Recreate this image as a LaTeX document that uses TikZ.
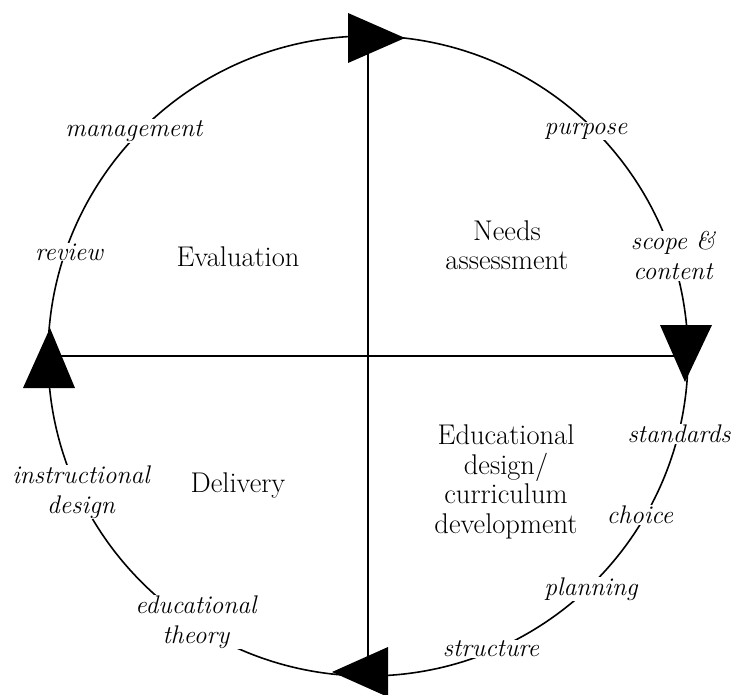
\documentclass[tikz,border=0pt]{standalone}
\usetikzlibrary{calc}
\begin{document}
\begin{tikzpicture}[x=1pt,y=-1pt,
  ring/.style={line width=1.6pt},
  axisline/.style={line width=1.6pt},
  lab/.style={fill=white,inner sep=1pt,align=center,font=\fontsize{25.5}{30}\selectfont\itshape},
  phase/.style={align=center,font=\fontsize{28.5}{29.5}\selectfont},
  head/.style={fill=black}]
\useasboundingbox (0,0) rectangle (733,695);
\coordinate (O) at (368,356);
\coordinate (T) at (368,36);
\coordinate (B) at (368,676);
\coordinate (L) at (48,356);
\coordinate (R) at (688,356);
\draw[ring] (O) circle [radius=320pt];
\draw[axisline] (T) -- (B);
\draw[axisline] (L) -- (R);
% labels on the ring
\node[lab] (management) at (134,131) {management};
\node[lab] (review) at (69,252) {review};
\node[lab] (purpose) at (586,131) {purpose};
\node[lab] (scope) at (673,256) {scope \&\\content};
\node[lab] (standards) at (679,434) {standards};
\node[lab] (choice) at (640,515) {choice};
\node[lab] (planning) at (591,589) {planning};
\node[lab] (structure) at (491,649) {structure};
\node[lab] (edtheory) at (196,622) {educational\\theory};
\node[lab] (instr) at (81,492) {instructional\\design};
% phase names
\node[phase] (evaluation) at (238,257) {Evaluation};
\node[phase] (needs) at (507,245) {Needs\\assessment};
\node[phase] (design) at (506,482) {Educational\\design/\\curriculum\\development};
\node[phase] (delivery) at (238,485) {Delivery};
% arrowheads
\fill[head] (348,13) -- (348,63) -- (405,38) -- cycle;
\fill[head] (660,325) -- (712,325) -- (685,382) -- cycle;
\fill[head] (23,388) -- (75,388) -- (50,328) -- cycle;
\fill[head] (388,647) -- (388,697) -- (332,672) -- cycle;
\end{tikzpicture}
\end{document}
